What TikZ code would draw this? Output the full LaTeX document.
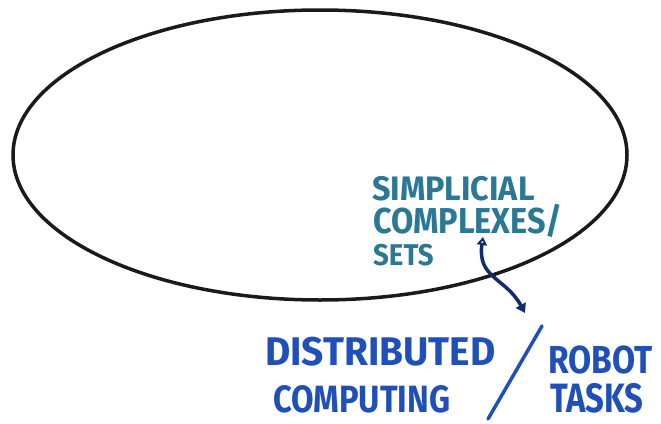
\documentclass[tikz,border=0pt]{standalone}
\usepackage{fontspec}
\usepackage{graphicx}
\setmainfont{Fira Sans}
\usetikzlibrary{arrows.meta}
\definecolor{inkblack}{HTML}{1A1A1A}
\definecolor{inkteal}{HTML}{2A7896}
\definecolor{inkblue}{HTML}{1F4FB8}
\definecolor{inknavy}{HTML}{0F2C6E}
% horizontally squeezed text: \hsq{factor}{size}{text}
\newcommand\hsq[3]{\scalebox{#1}[1]{\fontsize{#2}{#2}\selectfont #3}}
\tikzset{
  scribble/.style={inner sep=0pt, anchor=base west, font=\bfseries},
  tealtext/.style={scribble, text=inkteal},
  bluetext/.style={scribble, text=inkblue},
}
\begin{document}
\begin{tikzpicture}[x=1pt,y=-1pt]
\useasboundingbox (0,0) rectangle (661,423);
% the big set
\draw[inkblack, line width=3.5pt] (320,155) ellipse [x radius=307, y radius=145];
% labels inside the set
\node[tealtext] (simp) at (372,200) {\hsq{0.95}{34}{SIMPLICIAL}};
\node[tealtext] (comp) at (373,233) {\hsq{0.9}{36}{COMPLEXES/}};
\node[tealtext] (sets) at (373,265) {\hsq{0.92}{30}{SETS}};
% labels below the set
\node[bluetext] (dist) at (265,365) {\hsq{0.97}{40}{DISTRIBUTED}};
\node[bluetext] (cmpt) at (273,412) {\hsq{0.86}{38}{COMPUTING}};
\node[bluetext] (robo) at (548,373) {\hsq{0.86}{39}{ROBOT}};
\node[bluetext] (task) at (550,412) {\hsq{0.8}{41}{TASKS}};
% separating stroke
\coordinate (slashtop) at (542,326);
\coordinate (slashbot) at (488,419);
\draw[inkblue, line width=3.5pt, line cap=round] (slashtop) -- (slashbot);
% two-way arrow
\coordinate (arrA) at (483,237);
\coordinate (arrB) at (525,313);
\draw[inknavy, line width=3.5pt, {Triangle[open,length=8pt,width=10pt]}-{Triangle[length=9pt,width=11pt]}]
  (arrA) .. controls (477,278) and (506,278) .. (arrB);
\end{tikzpicture}
\end{document}
